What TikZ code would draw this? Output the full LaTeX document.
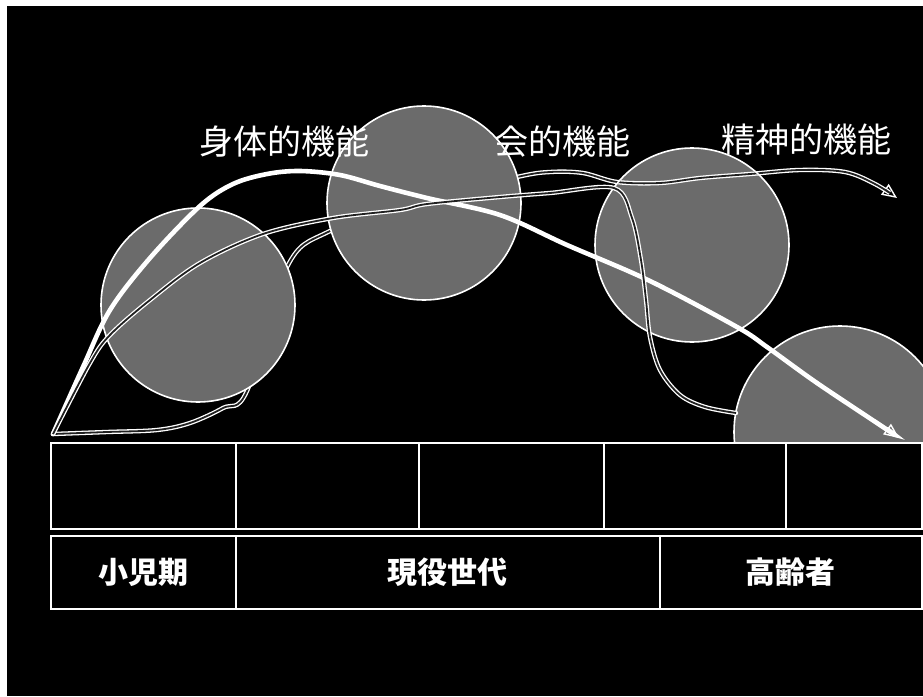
\documentclass[tikz,border=0pt]{standalone}
\usepackage{fontspec}
\newfontfamily\jp{Noto Sans CJK JP}
\usetikzlibrary{arrows.meta}
\definecolor{discgray}{gray}{0.42}
\definecolor{coregray}{gray}{0.13}
\newcommand\PhysCurve{plot[smooth, tension=0.55] coordinates {(O) (83,367) (110,310) (150,258) (200,206) (233,184) (267,174) (300,171) (340,175) (380,186) (427,198) (500,215) (567,245) (650,281) (737,327) (767,347) (817,383) (883,427) (P)}}
\newcommand\SocCurve{plot[smooth, tension=0.55] coordinates {(O) (90,363) (110,335) (150,300) (200,263) (263,234) (333,218) (400,210) (427,204) (500,197) (550,193) (614,188) (632,218) (641,260) (646,300) (650,337) (660,370) (680,395) (705,407) (S)}}
\newcommand\MentCurve{plot[smooth, tension=0.55] coordinates {(O) (107,432) (157,430) (190,423) (223,408) (247,391) (287,267) (328,232) (424,200) (517,177) (550,172) (583,173) (617,182) (660,183) (700,178) (750,174) (800,170) (845,172) (875,184) (M)}}
\begin{document}
\begin{tikzpicture}[x=1pt, y=-1pt,
  disc/.style={circle, draw=white, line width=1.6pt, fill=discgray, inner sep=0pt, minimum size=194pt},
  dblout/.style={draw=white, line width=4.4pt, line cap=round},
  dblcore/.style={draw=coregray, line width=1.8pt},
  physline/.style={draw=white, line width=4.6pt, line cap=round},
  opentip/.style={-{Triangle[open, length=15pt, width=13pt, line width=1.4pt]}},
  lab/.style={text=white, inner sep=0pt, font=\jp\fontsize{34pt}{36pt}\selectfont},
  cell/.style={draw=white, line width=1.8pt, fill=black, inner sep=0pt, anchor=north west},
  celltext/.style={cell, text=white, font=\jp\bfseries\fontsize{30pt}{32pt}\selectfont}]
\useasboundingbox (0,0) rectangle (923,696);
\fill[white] (0,0) rectangle (923,696);
\fill[black] (7,6) rectangle (923,696);

\coordinate (O) at (53,434);
\coordinate (P) at (899,438);
\coordinate (M) at (897,198);
\coordinate (S) at (736,413);

% mental function curve (passes behind the discs)
\draw[dblout, opentip] \MentCurve;
\draw[dblcore, shorten >=14pt] \MentCurve;

% discs
\node[disc] (c1) at (198,305) {};
\node[disc] (c2) at (424,203) {};
\node[disc] (c3) at (692,245) {};
\begin{scope}
  \clip (0,0) rectangle (923,441);
  \node[disc, minimum size=212pt] (c4) at (840,432) {};
\end{scope}

% mental curve visible inside the third disc
\begin{scope}
  \clip (c3.center) circle[radius=96pt];
  \draw[dblout] \MentCurve;
  \draw[dblcore] \MentCurve;
\end{scope}

% physical function curve
\draw[physline, opentip] \PhysCurve;

% social function curve
\draw[dblout] \SocCurve;
\draw[dblcore] \SocCurve;

% labels
\node[lab] (lphys) at (284,142) {身体的機能};
\node[lab] (lsoc) at (562,142) {会的機能};
\node[lab] (lment) at (806,140) {精神的機能};

% table
\node[cell, minimum width=185pt, minimum height=86pt] (r1a) at (50,442) {};
\node[cell, minimum width=183pt, minimum height=86pt] (r1b) at (235,442) {};
\node[cell, minimum width=185pt, minimum height=86pt] (r1c) at (418,442) {};
\node[cell, minimum width=182pt, minimum height=86pt] (r1d) at (603,442) {};
\node[cell, minimum width=136pt, minimum height=86pt] (r1e) at (785,442) {};
\node[celltext, minimum width=185pt, minimum height=73pt] (r2a) at (50,535) {小児期};
\node[celltext, minimum width=424pt, minimum height=73pt] (r2b) at (235,535) {現役世代};
\node[celltext, minimum width=262pt, minimum height=73pt] (r2c) at (659,535) {高齢者};
\end{tikzpicture}
\end{document}
